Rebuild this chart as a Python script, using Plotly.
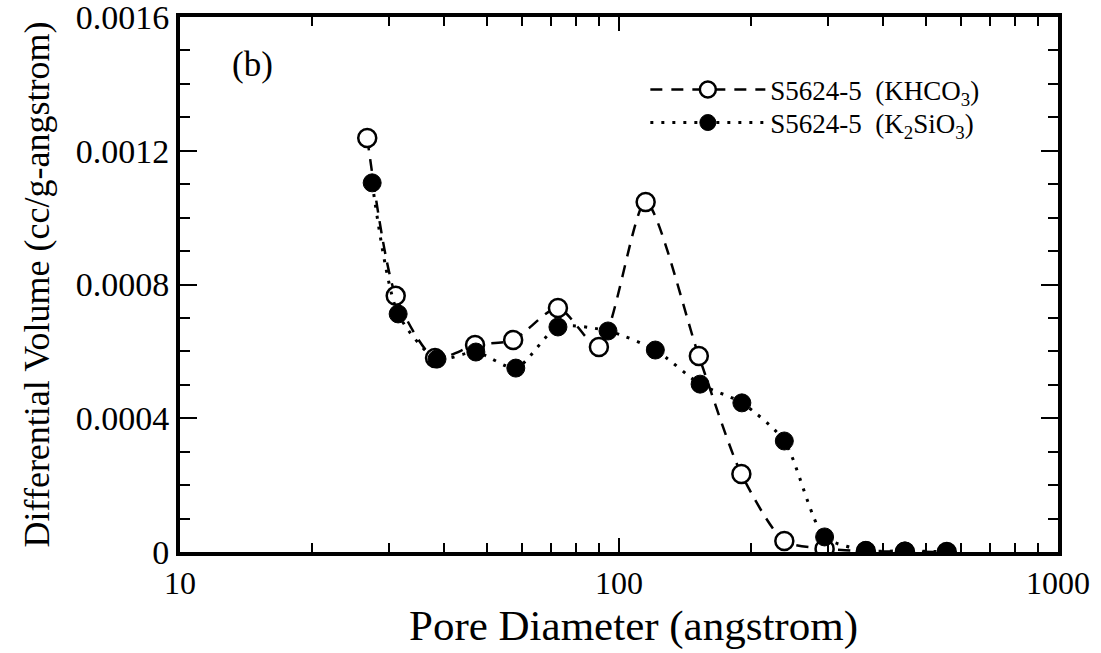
import plotly.graph_objects as go

# Data
pore_khco3 = [26.7, 31.0, 38.1, 47.0, 57.4, 72.6, 90.0, 115, 152, 190, 238, 294, 365, 448, 558]
vol_khco3 = [0.001238, 0.000766, 0.000580, 0.000619, 0.000634, 0.000730, 0.000613, 0.001047,
             0.000586, 0.000233, 0.000033, 0.000010, 0.000002, 0.000001, 0.0]

pore_k2sio3 = [27.4, 31.4, 38.5, 47.2, 58.2, 72.6, 94.4, 121, 153, 190.5, 238, 294, 365, 448, 558]
vol_k2sio3 = [0.001104, 0.000712, 0.000577, 0.000598, 0.000550, 0.000673, 0.000661, 0.000604,
              0.000502, 0.000446, 0.000332, 0.000045, 0.000005, 0.000003, 0.000001]

x_tickvals = [10, 100, 1000]
x_ticktext = ["10", "100", "1000"]
y_tickvals = [0, 0.0004, 0.0008, 0.0012, 0.0016]
y_ticktext = ["0", "0.0004", "0.0008", "0.0012", "0.0016"]

FONT = "Liberation Serif, Times New Roman, serif"

fig = go.Figure()
fig.add_trace(go.Scatter(
    x=pore_khco3, y=vol_khco3, mode="lines+markers",
    name="S5624-5  (KHCO<sub>3</sub>)", legend="legend",
    line=dict(color="black", width=2.5, dash="12px,9px", shape="spline", smoothing=0.7),
    marker=dict(symbol="circle", size=18, color="white", line=dict(color="black", width=2.5)),
))
fig.add_trace(go.Scatter(
    x=pore_k2sio3, y=vol_k2sio3, mode="lines+markers",
    name="S5624-5  (K<sub>2</sub>SiO<sub>3</sub>)", legend="legend2",
    line=dict(color="black", width=3, dash="3px,8px", shape="spline", smoothing=0.7),
    marker=dict(symbol="circle", size=18, color="black", line=dict(color="black", width=1)),
))

leg_common = dict(xanchor="left", yanchor="middle", bgcolor="rgba(0,0,0,0)",
                  font=dict(size=27, family=FONT), itemwidth=115)

fig.update_layout(
    width=1101, height=653,
    margin=dict(l=180, r=43, t=17, b=101, autoexpand=False),
    paper_bgcolor="white", plot_bgcolor="white",
    font=dict(family=FONT, color="black", size=32),
    showlegend=True,
    legend=dict(x=0.53, y=0.8636, **leg_common),
    legend2=dict(x=0.53, y=0.8019, **leg_common),
    annotations=[
        dict(text="(b)", x=0.057, y=0.912, xref="paper", yref="paper",
             xanchor="left", yanchor="middle", showarrow=False,
             font=dict(size=35, family=FONT)),
        dict(text="Pore Diameter (angstrom)", x=0.517, y=-0.09, xref="paper", yref="paper",
             xanchor="center", yanchor="top", showarrow=False,
             font=dict(size=43, family=FONT)),
    ],
)
fig.update_xaxes(
    type="log", range=[1, 3], automargin=False,
    tickvals=x_tickvals, ticktext=x_ticktext,
    ticks="inside", ticklen=14, tickwidth=2, tickcolor="black",
    minor=dict(ticks="inside", ticklen=9, tickwidth=2, tickcolor="black",
               dtick="D1", showgrid=False),
    showline=True, linewidth=4, linecolor="black", mirror="allticks",
    showgrid=False, zeroline=False,
    tickfont=dict(size=32, family=FONT),
)
fig.update_yaxes(
    range=[0, 0.0016], automargin=False,
    tickvals=y_tickvals, ticktext=y_ticktext,
    ticks="inside", ticklen=17, tickwidth=2, tickcolor="black",
    minor=dict(ticks="inside", ticklen=10, tickwidth=2, tickcolor="black",
               dtick=0.0001, showgrid=False),
    showline=True, linewidth=4, linecolor="black", mirror="allticks",
    showgrid=False, zeroline=False, ticklabeloverflow="allow",
    tickfont=dict(size=34, family=FONT),
    title=dict(text="Differential Volume (cc/g-angstrom)", font=dict(size=36, family=FONT), standoff=16),
)

fig.write_html("out.html")
